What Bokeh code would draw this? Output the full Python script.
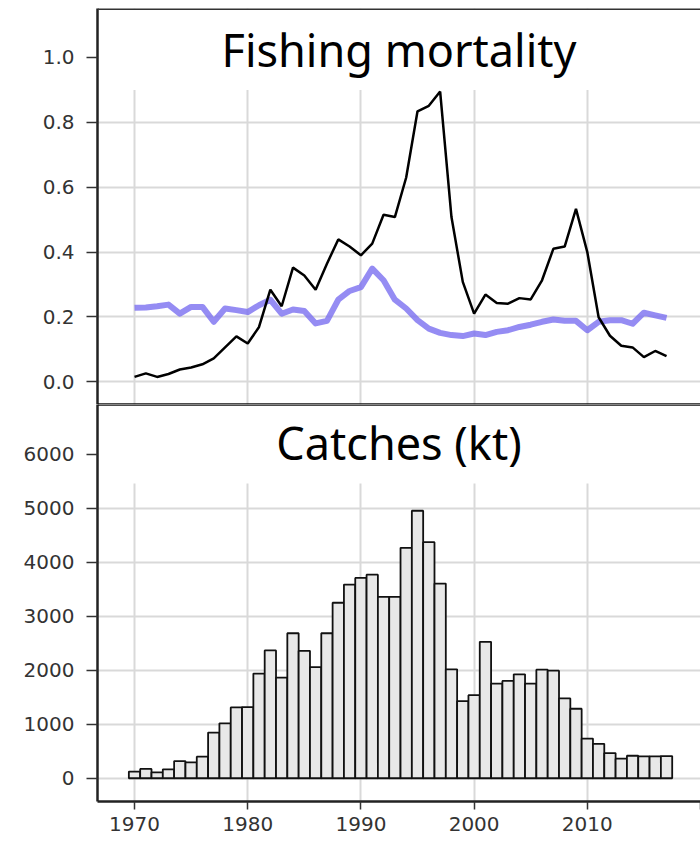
from bokeh.plotting import figure
from bokeh.layouts import column
from bokeh.models import (Range1d, FixedTicker, Grid, BoxAnnotation, Label, Span,
                          LinearAxis, NumeralTickFormatter, ColumnDataSource)
from bokeh.embed import file_html
from bokeh.resources import INLINE

years = list(range(1970, 2018))

f_total = [0.015, 0.026, 0.015, 0.024, 0.038, 0.044, 0.054, 0.072, 0.106, 0.140,
           0.118, 0.169, 0.284, 0.233, 0.352, 0.328, 0.284, 0.364, 0.439, 0.417,
           0.390, 0.426, 0.515, 0.508, 0.630, 0.834, 0.851, 0.895, 0.508, 0.308,
           0.210, 0.269, 0.243, 0.241, 0.258, 0.254, 0.313, 0.410, 0.417, 0.533,
           0.400, 0.199, 0.142, 0.111, 0.106, 0.076, 0.095, 0.079]

f_ref = [0.228, 0.229, 0.233, 0.238, 0.210, 0.231, 0.231, 0.185, 0.226, 0.221,
         0.215, 0.236, 0.253, 0.210, 0.223, 0.218, 0.180, 0.188, 0.253, 0.280,
         0.292, 0.349, 0.313, 0.253, 0.226, 0.190, 0.164, 0.151, 0.144, 0.141,
         0.149, 0.144, 0.154, 0.159, 0.169, 0.176, 0.185, 0.192, 0.188, 0.188,
         0.159, 0.185, 0.190, 0.190, 0.179, 0.213, 0.205, 0.197]

catches = [123, 172, 110, 166, 319, 294, 399, 847, 1018, 1313,
           1319, 1939, 2368, 1865, 2687, 2362, 2061, 2687, 3252, 3589,
           3712, 3773, 3362, 3362, 4270, 4957, 4374, 3607, 2018, 1429,
           1540, 2528, 1755, 1804, 1926, 1755, 2012, 1994, 1479, 1288,
           736, 638, 466, 362, 417, 405, 405, 411]

x_ticks = [1970, 1980, 1990, 2000, 2010, 2020]
f_ticks = [0.0, 0.2, 0.4, 0.6, 0.8, 1.0]
c_ticks = [0, 1000, 2000, 3000, 4000, 5000, 6000]

title_top = "Fishing mortality"
title_bottom = "Catches (kt)"

TICK_FONT = "DejaVu Sans"
TICK_SIZE = "20px"
TICK_COLOR = "#333333"
GRID_COLOR = "#d9d9d9"
X_START, X_END = 1966.73, 2020.0


def style_yaxis(ax, standoff=12):
    ax.axis_line_color = "#222222"
    ax.axis_line_width = 2.5
    ax.major_tick_out = 11
    ax.major_tick_in = 0
    ax.major_tick_line_color = "#333333"
    ax.major_tick_line_width = 1.5
    ax.minor_tick_line_color = None
    ax.major_label_text_font = TICK_FONT
    ax.major_label_text_font_size = TICK_SIZE
    ax.major_label_text_color = TICK_COLOR
    ax.major_label_standoff = standoff


def base_fig(height, y_start, y_end, top_border, bottom_border):
    p = figure(width=700, height=height, output_backend="svg", toolbar_location=None,
               x_range=Range1d(X_START, X_END), y_range=Range1d(y_start, y_end),
               x_axis_location=None, y_axis_location=None,
               min_border_left=97, min_border_right=0,
               min_border_top=top_border, min_border_bottom=bottom_border)
    p.outline_line_color = None
    p.background_fill_color = "white"
    p.border_fill_color = "white"
    return p


# ---------------- top panel ----------------
p1 = base_fig(404, -0.070, 1.151, 8, 0)
ya1 = LinearAxis(ticker=FixedTicker(ticks=f_ticks),
                 formatter=NumeralTickFormatter(format="0.0"))
style_yaxis(ya1)
p1.add_layout(ya1, "left")
p1.add_layout(Grid(dimension=0, ticker=FixedTicker(ticks=x_ticks),
                   grid_line_color=GRID_COLOR, grid_line_width=2))
p1.add_layout(Grid(dimension=1, ticker=FixedTicker(ticks=f_ticks),
                   grid_line_color=GRID_COLOR, grid_line_width=2))
p1.add_layout(BoxAnnotation(bottom=0.9, fill_color="white", fill_alpha=1.0,
                            line_color=None, level="underlay"))

src1 = ColumnDataSource(dict(year=years, ftot=f_total, fref=f_ref))
p1.line("year", "fref", source=src1, line_color="#7b6ff0", line_width=6, line_alpha=0.8,
        line_join="round")
p1.line("year", "ftot", source=src1, line_color="black", line_width=2.5)

p1.add_layout(Label(x=(X_START + X_END) / 2, y=1.024, text=title_top,
                    text_align="center", text_baseline="alphabetic",
                    text_font="Noto Sans", text_font_size="45px", text_color="black"))
p1.add_layout(Span(location=1.151, dimension="width", line_color="#333333", line_width=3))
p1.add_layout(Span(location=-0.070, dimension="width", line_color="#111111", line_width=2.5))

# ---------------- bottom panel ----------------
p2 = base_fig(437, -431, 6926, 0, 40)
ya2 = LinearAxis(ticker=FixedTicker(ticks=c_ticks),
                 formatter=NumeralTickFormatter(format="0"))
style_yaxis(ya2)
p2.add_layout(ya2, "left")
xa2 = LinearAxis(ticker=FixedTicker(ticks=x_ticks))
xa2.axis_line_color = "#222222"
xa2.axis_line_width = 2.5
xa2.major_tick_out = 8
xa2.major_tick_in = 0
xa2.major_tick_line_color = "#333333"
xa2.major_tick_line_width = 1.5
xa2.minor_tick_line_color = None
xa2.major_label_text_font = TICK_FONT
xa2.major_label_text_font_size = TICK_SIZE
xa2.major_label_text_color = TICK_COLOR
xa2.major_label_standoff = 7
xa2.major_label_overrides = {2020: ""}
p2.add_layout(xa2, "below")
p2.add_layout(Grid(dimension=0, ticker=FixedTicker(ticks=x_ticks),
                   grid_line_color=GRID_COLOR, grid_line_width=2))
p2.add_layout(Grid(dimension=1, ticker=FixedTicker(ticks=c_ticks),
                   grid_line_color=GRID_COLOR, grid_line_width=2))
p2.add_layout(BoxAnnotation(bottom=5460, fill_color="white", fill_alpha=1.0,
                            line_color=None, level="underlay"))

src2 = ColumnDataSource(dict(year=years, catch=catches))
p2.vbar(x="year", top="catch", width=1.0, bottom=0, source=src2,
        fill_color="#e8e8e8", line_color="#111111", line_width=1.8)

p2.add_layout(Label(x=(X_START + X_END) / 2, y=6230, text=title_bottom,
                    text_align="center", text_baseline="alphabetic",
                    text_font="Noto Sans", text_font_size="45px", text_color="black"))
p2.add_layout(Span(location=6926, dimension="width", line_color="#111111", line_width=2.5))

layout = column(p1, p2, spacing=0)

open("out.html", "w").write(file_html(layout, INLINE))
